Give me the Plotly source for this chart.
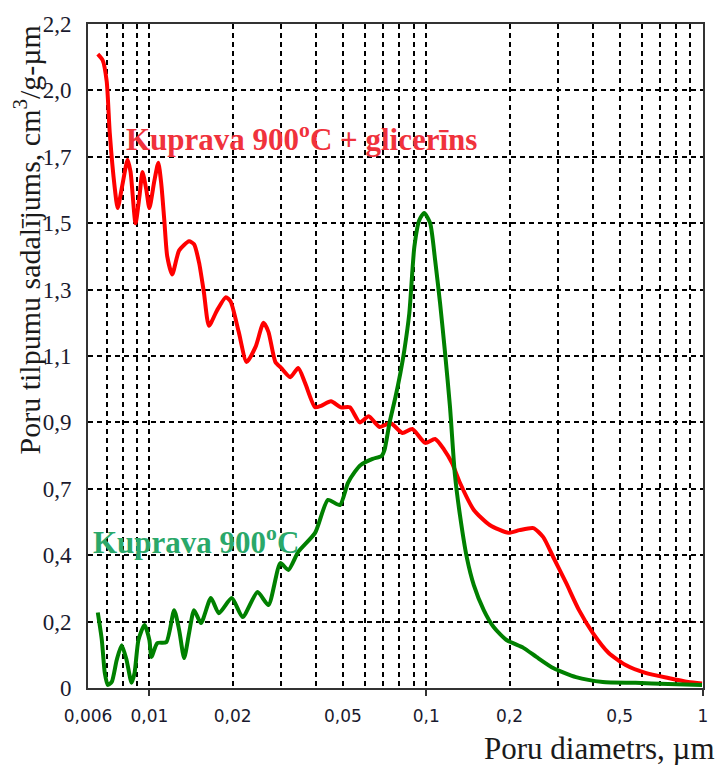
import plotly.graph_objects as go

# Pore size distribution, Kuprava clay fired at 900 C, with and without glycerol
red_d = [0.00651, 0.00678, 0.00701, 0.00719, 0.00749, 0.00768, 0.00800, 0.00834, 0.00855,
         0.00891, 0.00921, 0.00944, 0.00975, 0.0100, 0.01042, 0.01077, 0.01104, 0.01132,
         0.0116, 0.01209, 0.01281, 0.01391, 0.0145, 0.01511, 0.01574, 0.01641, 0.01753,
         0.01888, 0.01967, 0.02102, 0.02245, 0.02418, 0.02584, 0.02692, 0.02852, 0.02997,
         0.03228, 0.03449, 0.03653, 0.03968, 0.0417, 0.04529, 0.04917, 0.05297, 0.05754,
         0.06197, 0.06786, 0.0743, 0.08204, 0.08909, 0.09917, 0.1077, 0.116, 0.124, 0.1324,
         0.1486, 0.1696, 0.1984, 0.2173, 0.2439, 0.2648, 0.2876, 0.3203, 0.3565, 0.4002,
         0.4565, 0.5254, 0.6196, 0.7493, 0.8838, 0.992]
red_v = [2.10, 2.08, 2.01, 1.84, 1.66, 1.59, 1.67, 1.75, 1.71,
         1.54, 1.63, 1.71, 1.65, 1.59, 1.68, 1.74, 1.67, 1.55,
         1.43, 1.37, 1.45, 1.48, 1.47, 1.41, 1.31, 1.20, 1.25,
         1.295, 1.28, 1.18, 1.08, 1.13, 1.21, 1.18, 1.08, 1.06,
         1.03, 1.06, 1.01, 0.93, 0.935, 0.95, 0.93, 0.93, 0.88,
         0.90, 0.865, 0.878, 0.845, 0.858, 0.812, 0.825, 0.79, 0.745, 0.68,
         0.59, 0.54, 0.514, 0.523, 0.53, 0.50, 0.434, 0.348, 0.258, 0.182,
         0.116, 0.076, 0.050, 0.033, 0.020, 0.015]

green_d = [0.00651, 0.00673, 0.0069, 0.00707, 0.00731, 0.00762, 0.00794, 0.00827, 0.00862,
           0.00884, 0.00913, 0.0096, 0.0100, 0.01017, 0.01068, 0.01151, 0.01229, 0.01281,
           0.01335, 0.01391, 0.0145, 0.01536, 0.01668, 0.01782, 0.01984, 0.02172, 0.02459,
           0.02692, 0.02972, 0.03176, 0.03449, 0.03968, 0.04418, 0.04877, 0.05211, 0.0552,
           0.058, 0.06405, 0.06899, 0.0707, 0.0737, 0.07745, 0.0807, 0.0834, 0.0869, 0.0906,
           0.0944, 0.0983, 0.1033, 0.1077, 0.1122, 0.117, 0.1219, 0.127, 0.1324, 0.1403,
           0.1486, 0.1614, 0.1752, 0.1951, 0.2245, 0.25, 0.2876, 0.3477, 0.4345, 0.5705,
           0.7493, 0.992]
green_v = [0.25, 0.16, 0.05, 0.01, 0.02, 0.093, 0.142, 0.093, 0.017,
           0.05, 0.159, 0.209, 0.159, 0.103, 0.149, 0.152, 0.258, 0.192,
           0.099, 0.182, 0.258, 0.215, 0.298, 0.248, 0.298, 0.235, 0.318,
           0.275, 0.414, 0.391, 0.451, 0.514, 0.623, 0.606, 0.679, 0.716,
           0.739, 0.759, 0.769, 0.789, 0.878, 0.964, 1.044, 1.12, 1.242, 1.461,
           1.55, 1.574, 1.541, 1.418, 1.276, 1.11, 0.931, 0.706, 0.573, 0.431,
           0.341, 0.258, 0.202, 0.159, 0.133, 0.103, 0.066, 0.036, 0.020, 0.017,
           0.013, 0.010]

x_ticks = [0.006, 0.01, 0.02, 0.05, 0.1, 0.2, 0.5, 1]
x_labels = ["0,006", "0,01", "0,02", "0,05", "0,1", "0,2", "0,5", "1"]
x_minor = [0.007, 0.008, 0.009, 0.03, 0.04, 0.06, 0.07, 0.08, 0.09,
           0.3, 0.4, 0.6, 0.7, 0.8, 0.9]
y_ticks = [0, 0.22, 0.44, 0.66, 0.88, 1.10, 1.32, 1.54, 1.76, 1.98, 2.2]
y_labels = ["0", "0,2", "0,4", "0,7", "0,9", "1,1", "1,3", "1,5", "1,7", "2,0", "2,2"]

serif = "Liberation Serif"
grid_dash = "5px,4px"

fig = go.Figure()
fig.add_trace(go.Scatter(x=red_d, y=red_v, mode="lines",
                         line=dict(color="#ff0000", width=4, shape="spline", smoothing=0.6),
                         showlegend=False))
fig.add_trace(go.Scatter(x=green_d, y=green_v, mode="lines",
                         line=dict(color="#008000", width=4, shape="spline", smoothing=0.6),
                         showlegend=False))
# invisible trace carrying the decade tick marks
fig.add_trace(go.Scatter(x=[0.01], y=[0], xaxis="x2", mode="markers",
                         marker=dict(opacity=0), showlegend=False, hoverinfo="skip"))

plot_w, plot_h = 718 - 88 - 10, 765 - 24 - 77

fig.update_layout(
    width=718, height=765,
    margin=dict(l=88, r=10, t=24, b=77),
    plot_bgcolor="white", paper_bgcolor="white",
    xaxis=dict(
        type="log", range=[-2.2218, 0],
        tickvals=x_ticks, ticktext=x_labels, ticks="",
        tickfont=dict(family="DejaVu Sans", size=17, color="#1a1a2e"),
        showgrid=True, gridcolor="black", gridwidth=1.5, griddash=grid_dash,
        minor=dict(tickvals=x_minor, showgrid=True, gridcolor="black",
                   gridwidth=1.5, griddash=grid_dash, ticks=""),
        showline=True, linecolor="#333333", linewidth=2, mirror=True,
        ticklabelstandoff=12, zeroline=False,
    ),
    xaxis2=dict(
        type="log", range=[-2.2218, 0], overlaying="x", side="bottom",
        tickvals=[0.01, 0.1, 1], ticks="outside", ticklen=7, tickwidth=1.5,
        tickcolor="#333333", showticklabels=False, showgrid=False, showline=False,
    ),
    yaxis=dict(
        range=[0, 2.2], tickvals=y_ticks, ticktext=y_labels, ticks="",
        tickfont=dict(family=serif, size=23, color="#1a1a2e"),
        showgrid=True, gridcolor="black", gridwidth=1.5, griddash=grid_dash,
        showline=True, linecolor="#333333", linewidth=2, mirror=True,
        ticklabelstandoff=10, zeroline=False,
    ),
    annotations=[
        dict(text="Poru tilpumu sadalījums, cm<sup>3</sup>/g-µm", textangle=-90,
             xref="paper", yref="paper", showarrow=False,
             x=(27 - 88) / plot_w, y=1 - (240 - 24) / plot_h,
             xanchor="center", yanchor="middle",
             font=dict(family=serif, size=30, color="#1a1a1a")),
        dict(text="<b>Kuprava 900<sup>o</sup>C + glicerīns</b>", xref="paper", yref="paper",
             showarrow=False, x=(124 - 88) / plot_w, y=1 - (137 - 24) / plot_h,
             xanchor="left", yanchor="middle",
             font=dict(family=serif, size=31, color="#f0323c")),
        dict(text="<b>Kuprava 900<sup>o</sup>C</b>", xref="paper", yref="paper",
             showarrow=False, x=(91 - 88) / plot_w, y=1 - (540 - 24) / plot_h,
             xanchor="left", yanchor="middle",
             font=dict(family=serif, size=31, color="#2aa86a")),
        dict(text="Poru diametrs, µm", xref="paper", yref="paper", showarrow=False,
             x=(722 - 88) / plot_w, y=-(748 - 688) / plot_h,
             xanchor="right", yanchor="middle",
             font=dict(family=serif, size=31, color="#1a1a1a")),
    ],
)

fig.write_html("out.html")
